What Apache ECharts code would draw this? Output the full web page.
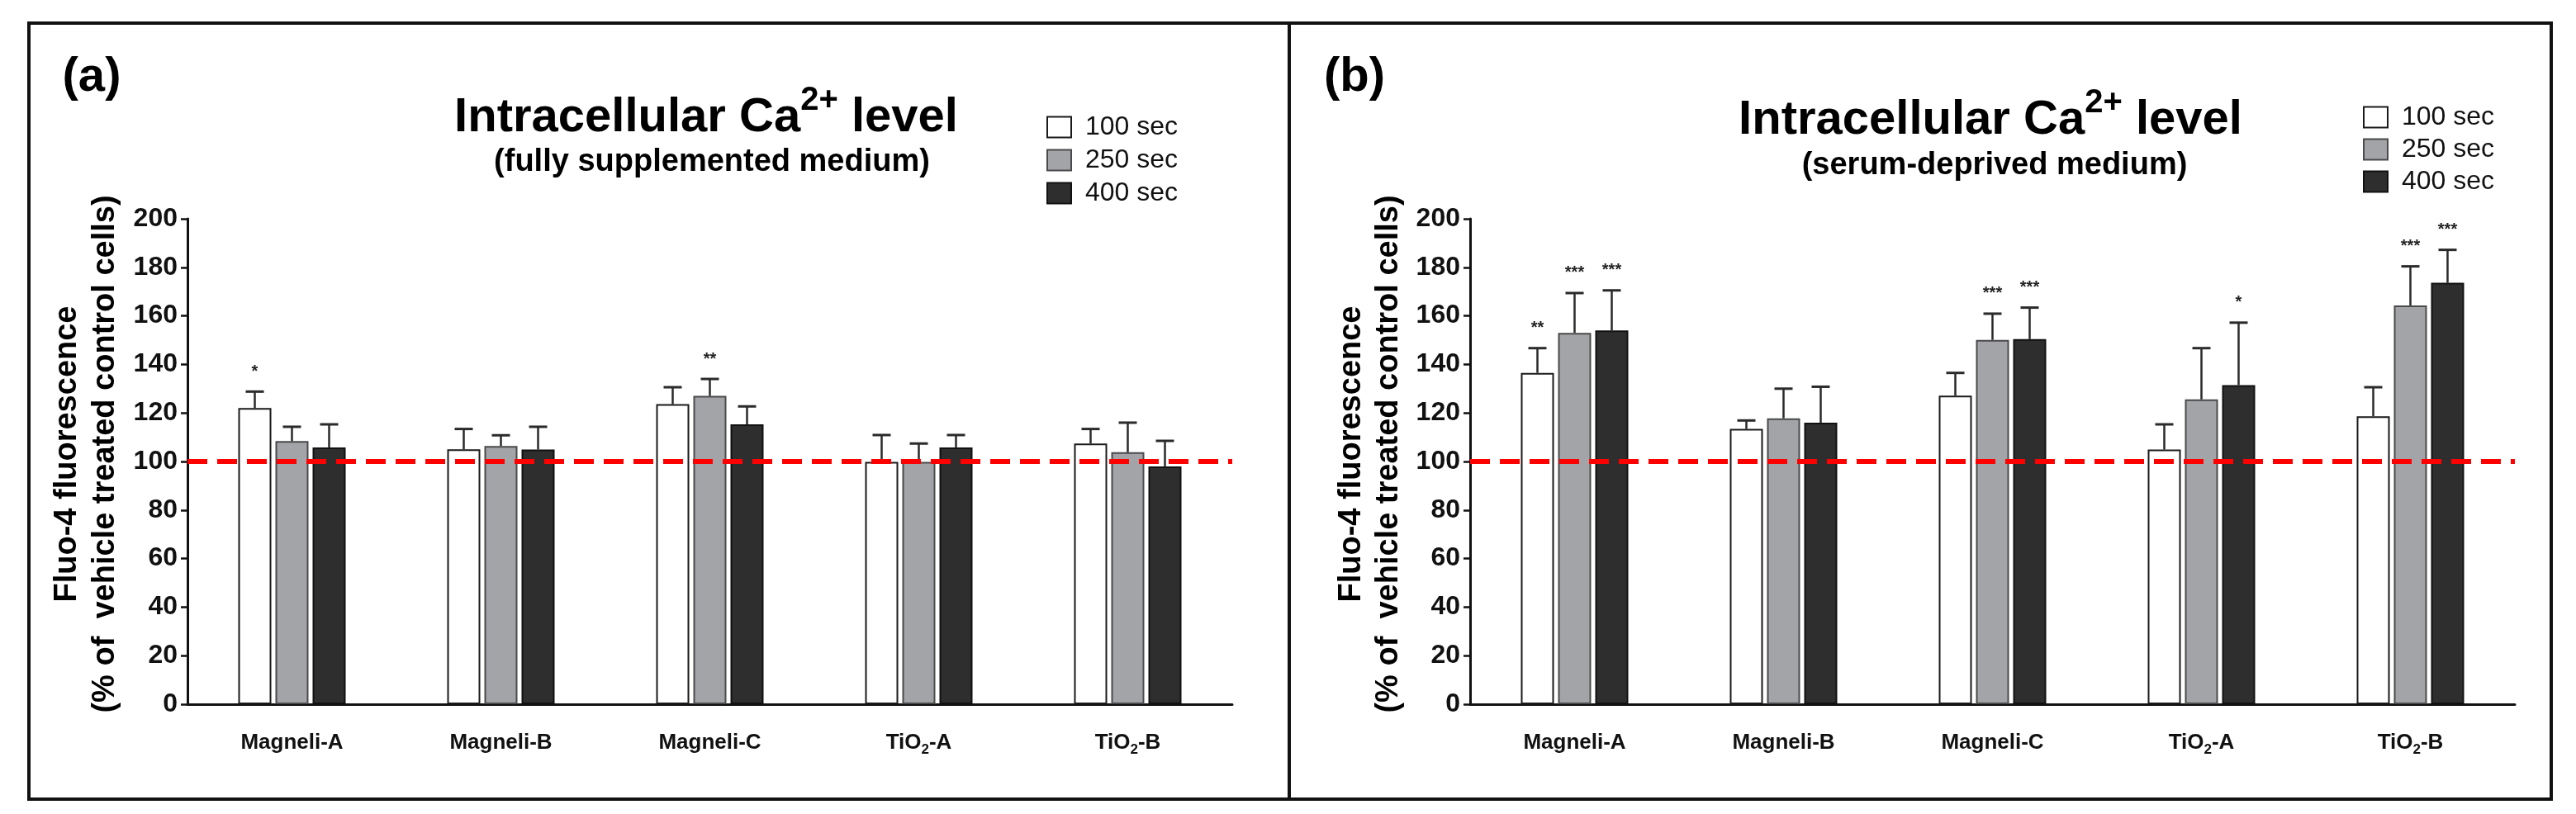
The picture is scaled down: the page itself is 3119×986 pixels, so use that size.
<!DOCTYPE html>
<html lang="en">
<head>
<meta charset="UTF-8" />
<title>Intracellular Ca2+ level</title>
<script src="https://cdn.jsdelivr.net/npm/echarts@6/dist/echarts.min.js"></script>
<style>
  body{margin:0;padding:0;background:#fff;}
  #main{width:3119px;height:986px;}
</style>
</head>
<body>
<div id="main"></div>
<script>
// categories and series names
var categories = ['Magneli-A', 'Magneli-B', 'Magneli-C', 'TiO2-A', 'TiO2-B'];
var timeNames = ['100 sec', '250 sec', '400 sec'];

// (a) fully supplemented medium: means, SD, significance marks
var a100 = [122, 105, 123.6, 99.8, 107.4];
var a100Sd = [6.8, 8.4, 7.0, 11.1, 6.0];
var a100Stars = ['*', '', '', '', ''];
var a250 = [108.4, 106.4, 127, 99.8, 103.8];
var a250Sd = [5.9, 4.4, 7.0, 7.6, 12.2];
var a250Stars = ['', '', '**', '', ''];
var a400 = [105.8, 104.9, 115.3, 105.8, 98];
var a400Sd = [9.5, 9.4, 7.4, 5.1, 10.5];
var a400Stars = ['', '', '', '', ''];

// (b) serum-deprived medium
var b100 = [136.5, 113.4, 127.1, 104.9, 118.6];
var b100Sd = [10.2, 3.5, 9.4, 10.4, 12.0];
var b100Stars = ['**', '', '', '', ''];
var b250 = [153, 117.8, 150.1, 125.6, 164.3];
var b250Sd = [16.4, 12.2, 10.8, 21.1, 16.1];
var b250Stars = ['***', '', '***', '', '***'];
var b400 = [154, 116, 150.4, 131.5, 173.6];
var b400Sd = [16.5, 14.8, 13.0, 25.7, 13.6];
var b400Stars = ['***', '', '***', '*', '***'];

var controlLevel = 100;

var FONT = "'Liberation Sans', Arial, sans-serif";
var BAR_W = 40, BAR_SPACE = 5, CAP = 22;

var barStyles = [
  {color: '#ffffff', borderColor: '#1a1a1a', borderWidth: 2},
  {color: '#a3a4a8', borderColor: '#4a4a4a', borderWidth: 2},
  {color: '#2e2e2e', borderColor: '#111111', borderWidth: 2}
];

function barSeries(name, g, values, slot) {
  var s = {
    type: 'bar', name: name, xAxisIndex: g, yAxisIndex: g,
    data: values, barWidth: BAR_W, barGap: (BAR_SPACE / BAR_W * 100) + '%',
    itemStyle: barStyles[slot], silent: true
  };
  if (slot === 0) {
    s.markLine = {
      silent: true, symbol: ['none', 'none'], label: {show: false},
      lineStyle: {color: '#ff0000', width: 6, type: [24, 12]},
      data: [{yAxis: controlLevel}]
    };
  }
  return s;
}

function errSeries(g, means, sds, stars, slot) {
  return {
    type: 'custom', name: timeNames[slot] + ' sd', xAxisIndex: g, yAxisIndex: g, z: 4, silent: true,
    data: means.map(function (m, i) { return [i, m, m + sds[i]]; }),
    renderItem: function (params, api) {
      var base = api.coord([api.value(0), api.value(1)]);
      var top = api.coord([api.value(0), api.value(2)]);
      var x = base[0] + (slot - 1) * (BAR_W + BAR_SPACE);
      var kids = [
        {type: 'line', shape: {x1: x, y1: base[1], x2: x, y2: top[1]}, style: {stroke: '#2a2a2a', lineWidth: 2.5}},
        {type: 'line', shape: {x1: x - CAP / 2, y1: top[1], x2: x + CAP / 2, y2: top[1]}, style: {stroke: '#2a2a2a', lineWidth: 3}}
      ];
      var st = stars[params.dataIndex];
      if (st) {
        kids.push({type: 'text', x: x, y: top[1] - 14,
          style: {text: st, font: 'bold 20px ' + FONT, fill: '#222', align: 'center', verticalAlign: 'bottom'}});
      }
      return {type: 'group', children: kids};
    }
  };
}

function xAxisFor(g) {
  return {
    type: 'category', gridIndex: g, data: categories,
    axisLine: {lineStyle: {color: '#111', width: 3}},
    axisTick: {alignWithLabel: true, length: 10, lineStyle: {color: '#111', width: 3}},
    axisLabel: {
      margin: 34, color: '#111',
      formatter: function (v) {
        if (v.indexOf('TiO2') === 0) return '{n|TiO}{s|2}{n|' + v.slice(4) + '}';
        return '{n|' + v + '}';
      },
      rich: {
        n: {fontSize: 26, fontWeight: 'bold', fontFamily: FONT, color: '#111', lineHeight: 30, verticalAlign: 'top'},
        s: {fontSize: 17, fontWeight: 'bold', fontFamily: FONT, color: '#111', lineHeight: 28, verticalAlign: 'bottom'}
      }
    }
  };
}

function yAxisFor(g) {
  return {
    type: 'value', gridIndex: g, min: 0, max: 200, interval: 20,
    axisLine: {show: true, lineStyle: {color: '#111', width: 3}},
    axisTick: {show: true, length: 8, lineStyle: {color: '#111', width: 2.5}},
    splitLine: {show: false},
    axisLabel: {fontSize: 32, fontWeight: 'bold', fontFamily: FONT, color: '#111', margin: 12}
  };
}

function legendFor(left, top, gap) {
  return {
    orient: 'vertical', left: left, top: top, data: timeNames, icon: 'rect', padding: 0,
    itemWidth: 29, itemHeight: 25, itemGap: gap, selectedMode: false,
    textStyle: {fontSize: 32, fontFamily: FONT, color: '#111', padding: [0, 0, 0, 12]}
  };
}

var titleRich = {
  t: {fontSize: 58, fontWeight: 'bold', fontFamily: FONT, fill: '#000', lineHeight: 70, verticalAlign: 'bottom'},
  sup: {fontSize: 40, fontWeight: 'bold', fontFamily: FONT, fill: '#000', lineHeight: 30, verticalAlign: 'top'}
};

function txt(x, y, text, font, extra) {
  var st = {text: text, x: 0, y: 0, font: font, fill: '#000', align: 'center', verticalAlign: 'middle'};
  var el = {type: 'text', x: x, y: y, style: st, silent: true};
  if (extra) for (var k in extra) el[k] = extra[k];
  return el;
}

var graphics = [
  {type: 'rect', shape: {x: 35, y: 28, width: 3054, height: 940}, style: {fill: 'none', stroke: '#111', lineWidth: 4}},
  {type: 'line', shape: {x1: 1561, y1: 28, x2: 1561, y2: 968}, style: {stroke: '#111', lineWidth: 4}},
  // panel labels
  txt(111, 94, '(a)', 'bold 58px ' + FONT),
  txt(1640, 94, '(b)', 'bold 58px ' + FONT),
  // titles
  {type: 'text', x: 855, y: 137, silent: true, style: {text: '{t|Intracellular Ca}{sup|2+}{t| level}', rich: titleRich, align: 'center', verticalAlign: 'middle'}},
  txt(862, 197, '(fully supplemented medium)', 'bold 38px ' + FONT),
  {type: 'text', x: 2410, y: 140, silent: true, style: {text: '{t|Intracellular Ca}{sup|2+}{t| level}', rich: titleRich, align: 'center', verticalAlign: 'middle'}},
  txt(2415, 201, '(serum-deprived medium)', 'bold 38px ' + FONT),
  // y-axis names
  txt(82, 550, 'Fluo-4 fluorescence', 'bold 38px ' + FONT, {rotation: Math.PI / 2}),
  txt(128, 550, '(% of  vehicle treated control cells)', 'bold 38px ' + FONT, {rotation: Math.PI / 2}),
  txt(1637, 550, 'Fluo-4 fluorescence', 'bold 38px ' + FONT, {rotation: Math.PI / 2}),
  txt(1682, 550, '(% of  vehicle treated control cells)', 'bold 38px ' + FONT, {rotation: Math.PI / 2})
];

var chart = echarts.init(document.getElementById('main'), null, {renderer: 'canvas'});
var option = {
  backgroundColor: '#ffffff',
  animation: false,
  textStyle: {fontFamily: FONT},
  grid: [
    {left: 227, top: 265, width: 1265, height: 588, outerBoundsMode: 'none'},
    {left: 1780, top: 265, width: 1265, height: 588, outerBoundsMode: 'none'}
  ],
  legend: [legendFor(1267, 138, 8), legendFor(2861, 126, 7)],
  xAxis: [xAxisFor(0), xAxisFor(1)],
  yAxis: [yAxisFor(0), yAxisFor(1)],
  graphic: graphics,
  series: [
    barSeries(timeNames[0], 0, a100, 0),
    barSeries(timeNames[1], 0, a250, 1),
    barSeries(timeNames[2], 0, a400, 2),
    barSeries(timeNames[0], 1, b100, 0),
    barSeries(timeNames[1], 1, b250, 1),
    barSeries(timeNames[2], 1, b400, 2),
    errSeries(0, a100, a100Sd, a100Stars, 0),
    errSeries(0, a250, a250Sd, a250Stars, 1),
    errSeries(0, a400, a400Sd, a400Stars, 2),
    errSeries(1, b100, b100Sd, b100Stars, 0),
    errSeries(1, b250, b250Sd, b250Stars, 1),
    errSeries(1, b400, b400Sd, b400Stars, 2)
  ]
};
chart.setOption(option);
</script>
</body>
</html>
